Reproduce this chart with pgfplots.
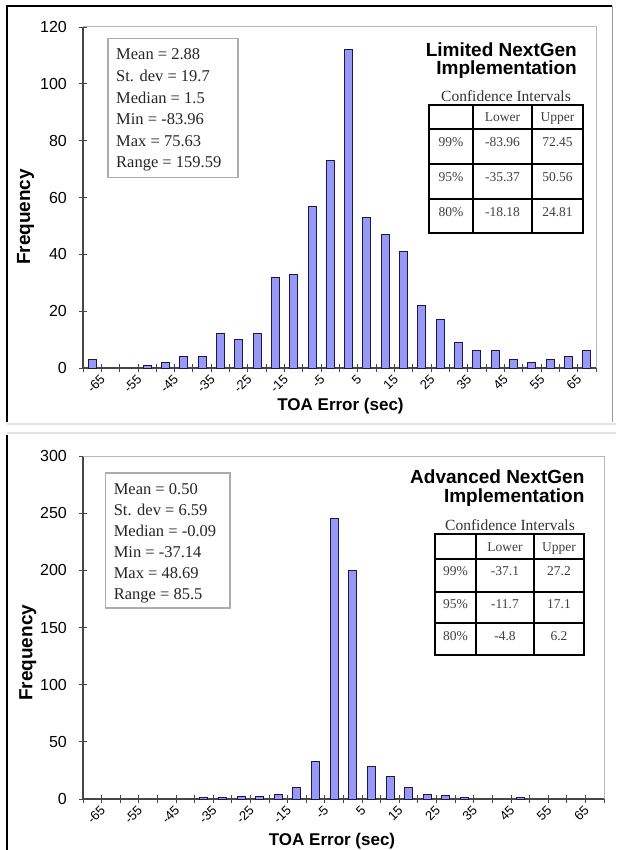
\documentclass[border=0pt]{standalone}
\usepackage{fontspec}
\setmainfont{Liberation Sans}
\newfontfamily\timesf{Liberation Serif}
\usepackage{pgfplots}
\usepackage{pgfplotstable}
\pgfplotsset{compat=1.18}
\definecolor{barfill}{RGB}{152,152,245}
\definecolor{baredge}{RGB}{25,25,80}
\definecolor{axgray}{RGB}{70,70,70}
\newcommand{\fs}[1]{\fontsize{#1}{#1}\selectfont}

\pgfplotstableread{
idx freq
0 3
3 1
4 2
5 4
6 4
7 12
8 10
9 12
10 32
11 33
12 57
13 73
14 112
15 53
16 47
17 41
18 22
19 17
20 9
21 6
22 6
23 3
24 2
25 3
26 4
27 6
}\limiteddata

\pgfplotstableread{
idx freq
6 1
7 1
8 2
9 2
10 4
11 10
12 33
13 245
14 200
15 28
16 20
17 10
18 4
19 3
20 1
23 1
}\advanceddata

\pgfplotsset{histo/.style={
  scale only axis, anchor=south west,
  xmin=-0.5, xmax=27.5, ymin=0,
  axis x line*=bottom, axis y line*=left,
  axis line style={axgray, line width=1.1pt},
  ybar, bar width=8pt,
  xtick={0,2,...,26},
  xticklabels={-65,-55,-45,-35,-25,-15,-5,5,15,25,35,45,55,65},
  minor xtick={-0.5,0.5,...,27.5},
  xticklabel style={rotate=45, anchor=east, font=\fs{13}, inner sep=0pt, xshift=1pt, yshift=-14pt},
  tick align=center, major tick length=0pt, minor tick length=8pt,
  tick style={axgray, line width=0.9pt},
  /pgf/number format/assume math mode=true,
  yticklabel style={font=\fs{16}, inner sep=0pt, anchor=east, xshift=-16pt},
  xlabel={TOA Error (sec)}, ylabel={Frequency},
  xlabel style={font=\bfseries\fs{17}, anchor=center},
  ylabel style={font=\bfseries\fs{19}, anchor=center},
  clip=false,
}}

\begin{document}
\begin{tikzpicture}[x=1pt,y=1pt]
\useasboundingbox (0,0) rectangle (616,-850);
\fill[white] (0,0) rectangle (616,-850);
% panel frames
\draw[black, line width=1.5pt] (7,-422) -- (7,-6) -- (612,-6);
\draw[gray!80, line width=1pt] (612,-6) -- (612,-422);
\draw[gray!22, line width=1.5pt] (7,-424) -- (616,-424);
\draw[gray!22, line width=1.5pt] (7,-433) -- (616,-433);
\draw[black, line width=1.5pt] (7,-435) -- (7,-850);

% ---------- Top chart ----------
\begin{axis}[histo, at={(83pt,-368pt)}, width=513pt, height=341pt,
  ymax=120, ytick={0,20,...,120}, minor ytick={0,20,...,120},
  xlabel style={at={(axis description cs:0.502,-0.113)}},
  ylabel style={at={(axis description cs:-0.112,0.443)}}]
\addplot[fill=barfill, draw=baredge, line width=1pt] table[x=idx,y=freq] {\limiteddata};
\draw[gray!55, line width=1pt] (rel axis cs:0,1) -- (rel axis cs:1,1) -- (rel axis cs:1,0);
\end{axis}

% stats box top
\draw[gray!65, line width=1.2pt] (108,-38.6) rectangle (238,-177.7);
\begin{scope}[every node/.style={anchor=base west, inner sep=0pt, font=\timesf\fs{16.5}, text=black!85}]
\node at (116,-60) {Mean = 2.88};
\node at (116,-81.6) {St. dev = 19.7};
\node at (116,-103.2) {Median = 1.5};
\node at (116,-124.8) {Min = -83.96};
\node at (116,-146.4) {Max = 75.63};
\node at (116,-168) {Range = 159.59};
\end{scope}
% title top
\node[anchor=base east, inner sep=0pt, font=\bfseries\fs{19}] at (577,-56.3) {Limited NextGen};
\node[anchor=base east, inner sep=0pt, font=\bfseries\fs{19}] at (577,-74.2) {Implementation};
\node[anchor=base, inner sep=0pt, font=\timesf\fs{15.5}, text=black!80] at (506,-102) {Confidence Intervals};
% table top
\draw[line width=2.4pt] (429,-105) rectangle (583,-233);
\draw[line width=1.3pt] (473,-105) -- (473,-233) (532,-105) -- (532,-233)
  (429,-129) -- (583,-129) (429,-164) -- (583,-164) (429,-199) -- (583,-199);
\begin{scope}[every node/.style={anchor=base, inner sep=0pt, font=\timesf\fs{13.5}, text=black!75}]
\node at (502.5,-121.7) {Lower};
\node at (557.5,-121.7) {Upper};
\node at (451,-146.7) {99\%};
\node at (502.5,-146.7) {-83.96};
\node at (557.5,-146.7) {72.45};
\node at (451,-181.7) {95\%};
\node at (502.5,-181.7) {-35.37};
\node at (557.5,-181.7) {50.56};
\node at (451,-216) {80\%};
\node at (502.5,-216) {-18.18};
\node at (557.5,-216) {24.81};
\end{scope}

% ---------- Bottom chart ----------
\begin{axis}[histo, at={(83pt,-799pt)}, width=521pt, height=343pt,
  ymax=300, ytick={0,50,...,300}, minor ytick={0,50,...,300},
  xlabel style={at={(axis description cs:0.478,-0.122)}},
  ylabel style={at={(axis description cs:-0.106,0.426)}}]
\addplot[fill=barfill, draw=baredge, line width=1pt] table[x=idx,y=freq] {\advanceddata};
\draw[gray!55, line width=1pt] (rel axis cs:0,1) -- (rel axis cs:1,1) -- (rel axis cs:1,0);
\end{axis}

% stats box bottom
\draw[gray!65, line width=1.2pt] (105.8,-473) rectangle (230,-608);
\begin{scope}[every node/.style={anchor=base west, inner sep=0pt, font=\timesf\fs{16.5}, text=black!85}]
\node at (113.6,-494) {Mean = 0.50};
\node at (113.6,-515) {St. dev = 6.59};
\node at (113.6,-536) {Median = -0.09};
\node at (113.6,-557) {Min = -37.14};
\node at (113.6,-578) {Max = 48.69};
\node at (113.6,-599) {Range = 85.5};
\end{scope}
% title bottom
\node[anchor=base east, inner sep=0pt, font=\bfseries\fs{19}] at (584.6,-483.3) {Advanced NextGen};
\node[anchor=base east, inner sep=0pt, font=\bfseries\fs{19}] at (584.6,-502.3) {Implementation};
\node[anchor=base, inner sep=0pt, font=\timesf\fs{15.5}, text=black!80] at (510,-530) {Confidence Intervals};
% table bottom
\draw[line width=2.4pt] (435,-534) rectangle (584,-655);
\draw[line width=1.3pt] (476,-534) -- (476,-655) (534,-534) -- (534,-655)
  (435,-559) -- (584,-559) (435,-592) -- (584,-592) (435,-623) -- (584,-623);
\begin{scope}[every node/.style={anchor=base, inner sep=0pt, font=\timesf\fs{13.5}, text=black!75}]
\node at (505,-551.7) {Lower};
\node at (559,-551.7) {Upper};
\node at (455.5,-575) {99\%};
\node at (505,-575) {-37.1};
\node at (559,-575) {27.2};
\node at (455.5,-608.3) {95\%};
\node at (505,-608.3) {-11.7};
\node at (559,-608.3) {17.1};
\node at (455.5,-640) {80\%};
\node at (505,-640) {-4.8};
\node at (559,-640) {6.2};
\end{scope}
\end{tikzpicture}
\end{document}
